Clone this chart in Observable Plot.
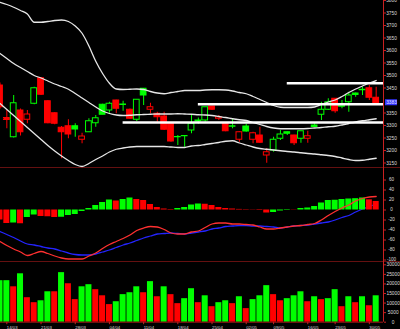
<!DOCTYPE html>
<html><head><meta charset="utf-8">
<script src="https://cdn.jsdelivr.net/npm/d3@7"></script>
<script src="https://cdn.jsdelivr.net/npm/@observablehq/plot@0.6"></script>
<style>
html,body{margin:0;padding:0;background:#000;}
#chart{position:relative;width:400px;height:329px;background:#000;overflow:hidden;}
#chart svg{display:block;}
</style></head><body><div id="chart"></div>
<script>
// ---- Candles (price) ----
const open  = [3460,3330,3253,3360,3323,3387,3489,3397,3349,3291,3297,3297,3243,3273,3309,3383,3360,3400,3382,3363,3323,3447,3363,3347,3336,3307,3253,3257,3280,3316,3320,3376,3327,3307,3295,3243,3296,3243,3260,3180,3200,3247,3273,3260,3247,3247,3300,3343,3363,3407,3375,3393,3428,3441,3449,3411];
const high  = [3470,3360,3420,3366,3360,3453,3492,3399,3351,3296,3323,3307,3269,3327,3340,3385,3393,3401,3397,3366,3403,3448,3389,3353,3353,3310,3260,3260,3340,3330,3373,3377,3340,3310,3327,3275,3305,3273,3293,3207,3253,3280,3274,3261,3277,3277,3307,3393,3407,3408,3400,3433,3430,3453,3460,3453];
const low   = [3365,3287,3250,3258,3307,3383,3420,3307,3303,3167,3247,3253,3227,3273,3293,3343,3349,3347,3357,3325,3316,3380,3347,3313,3280,3233,3220,3213,3267,3305,3313,3360,3320,3275,3287,3233,3273,3227,3229,3149,3193,3240,3260,3220,3229,3229,3293,3320,3360,3349,3367,3353,3413,3420,3400,3380];
const close = [3373,3322,3389,3273,3344,3449,3423,3309,3307,3273,3264,3284,3256,3317,3329,3343,3387,3367,3384,3327,3403,3420,3373,3333,3283,3236,3254,3258,3307,3320,3373,3363,3333,3277,3297,3273,3276,3269,3231,3193,3243,3264,3267,3229,3277,3257,3294,3363,3393,3357,3380,3420,3422,3443,3411,3383];
// 1 = closed above previous close (green), 0 = below (red)
const candleGreen = [0,0,1,0,0,1,0,0,0,0,0,1,0,1,1,1,1,0,1,0,1,1,0,0,0,0,1,1,1,1,1,0,0,0,1,0,1,0,0,0,1,1,1,0,1,0,1,1,1,0,1,1,1,1,0,0];
// ---- Bollinger bands ----
const bbUpper = [3793,3784,3773,3760,3746,3713,3713,3716,3720,3722,3716,3698,3669,3618,3557,3508,3469,3446,3444,3445,3446,3444,3436,3430,3427,3432,3436,3440,3440,3440,3442,3443,3443,3442,3438,3432,3427,3416,3404,3392,3380,3373,3372,3372,3372,3372,3374,3384,3394,3402,3416,3432,3446,3458,3470,3480];
const bbMid   = [3588,3568,3548,3532,3516,3500,3490,3478,3466,3456,3445,3428,3410,3392,3374,3358,3348,3342,3340,3341,3343,3344,3345,3346,3346,3346,3347,3346,3345,3343,3342,3340,3336,3332,3327,3323,3320,3312,3304,3296,3290,3287,3287,3287,3287,3288,3290,3292,3295,3297,3302,3308,3314,3319,3323,3327];
const bbLower = [3388,3364,3340,3316,3292,3268,3244,3220,3198,3178,3160,3144,3136,3148,3164,3178,3194,3205,3210,3214,3216,3216,3216,3216,3216,3214,3212,3212,3218,3220,3224,3228,3232,3237,3239,3230,3222,3214,3208,3205,3202,3199,3196,3194,3191,3188,3186,3183,3180,3176,3170,3164,3160,3161,3165,3169];
// ---- Drawn horizontal levels ----
const levelPrice = [3469, 3385, 3312];
const levelStart = [43, 30, 19];
const lastPrice = [3383];
// ---- MACD ----
const macdDif  = [-63,-71,-78,-84,-91,-87,-83,-87,-92,-96,-98,-98,-98,-92,-86,-77,-69,-63,-57,-50,-41,-36,-33,-34,-39,-46,-48,-48,-44,-42,-35,-28,-26,-26,-28,-28,-29,-30,-34,-38,-38,-36,-34,-32,-31,-29,-27,-20,-11,-3,4,10,18,23,26,27];
const macdDea  = [-43,-49,-55,-62,-68,-70,-73,-76,-78,-82,-86,-89,-90,-90,-88,-84,-80,-75,-70,-66,-61,-56,-52,-48,-47,-46,-47,-48,-46,-44,-42,-38,-36,-33,-32,-31,-31,-32,-32,-33,-34,-36,-34,-32,-31,-30,-28,-26,-24,-20,-15,-11,-4,2,7,12];
const macdHist = [-20,-27,-26,-27.5,-15,-10,-13,-13.5,-15,-14.5,-11,-9,-3,3,9,15,20,18,21,24,21,19,11,5,2,1,3,5,10,12,11.5,9,5,3,2,1.2,0.8,0.5,-1,-6,-5,-2,1,0.5,3,4,7,14,19,19.5,21,22,22.6,24,20.4,17];
// ---- Volume ----
const volume = [21700,21700,18500,25300,12800,10200,11200,15900,15900,25900,20100,11800,18500,19600,17000,13800,9200,10700,14400,15400,18500,15400,21200,13300,18500,14400,9700,12300,17500,10200,13800,8100,10200,11200,9700,13300,7100,11800,13800,19100,14400,11200,12300,13800,15900,10700,13300,11800,12300,17000,8100,13300,10200,13300,8600,13800];
const volumeGreen = [1,1,0,1,0,0,1,1,0,1,0,0,1,1,0,0,0,1,1,1,1,0,1,0,1,0,0,1,1,0,1,0,1,1,0,1,0,1,1,1,0,0,1,1,1,0,1,0,1,1,0,1,0,1,0,1];
// ---- Axis ticks (3400 is covered by the last-price tag in the original) ----
const priceTicks = [3800,3750,3700,3650,3600,3550,3500,3450,3350,3300,3250,3200,3150];
const macdTicks = [60,40,20,0,-20,-40,-60,-80,-100];
const volumeTicks = [30000,25000,20000,15000,10000,5000,0];
const dateTickCandle = [2,7,12,17,22,27,32,37,41,46,50,55];
const dateTickLabel = ["14/03","21/03","28/03","04/04","11/04","18/04","25/04","02/05","09/05","16/05","23/05","30/05"];

const N = open.length;
const candleNo = d3.range(1, N + 1);
const XD = [1.073, 57.07];
const W = 400, MR = 17;
const RED = "#c82020", GREEN = "#00ff00", CRED = "#ff0000";
const FONT = "'Liberation Sans', Arial, sans-serif";
const TXT = "#dcdcdc";

const rows = candleNo.map((n, k) => ({
  n, o: open[k], h: high[k], l: low[k], c: close[k], g: candleGreen[k] === 1,
  bu: bbUpper[k], bm: bbMid[k], bl: bbLower[k],
  dif: macdDif[k], dea: macdDea[k], hist: macdHist[k],
  histUp: k > 0 ? macdHist[k] >= macdHist[k - 1] : false,
  vol: volume[k], vg: volumeGreen[k] === 1
}));
const levels = levelPrice.map((p, k) => ({p, s: levelStart[k]}));
const dateLabel = new Map(dateTickCandle.map((n, k) => [n, dateTickLabel[k]]));

const style = {background: "#000", color: TXT, fontFamily: FONT, fontSize: "4.8px"};
const xScale = {type: "linear", domain: XD, axis: null};
const col = d => d.g ? GREEN : CRED;

const price = Plot.plot({
  width: W, height: 168, marginLeft: 0, marginRight: MR, marginTop: 0, marginBottom: 0,
  style, x: xScale, y: {domain: [3128, 3800], axis: null},
  marks: [
    Plot.ruleX(rows, {x: "n", y1: "l", y2: "h", stroke: col, strokeWidth: 1}),
    Plot.rect(rows, {x1: d => d.n - 0.42, x2: d => d.n + 0.42, y1: "o", y2: "c",
      fill: d => d.c > d.o ? "#000" : col(d), stroke: col, strokeWidth: 1}),
    Plot.line(rows, {x: "n", y: "bu", stroke: "#e6e6e6", strokeWidth: 1.3, curve: "monotone-x"}),
    Plot.line(rows, {x: "n", y: "bm", stroke: "#e6e6e6", strokeWidth: 1.3, curve: "monotone-x"}),
    Plot.line(rows, {x: "n", y: "bl", stroke: "#e6e6e6", strokeWidth: 1.3, curve: "monotone-x"}),
    Plot.ruleY(levels, {y: "p", x1: "s", x2: XD[1], stroke: "#ffffff", strokeWidth: 2.5}),
    Plot.ruleY([3130], {x1: XD[0], x2: 70, stroke: RED, strokeWidth: 1}),
    Plot.ruleX([XD[1]], {stroke: RED, strokeWidth: 1}),
    Plot.axisY(priceTicks, {anchor: "right", tickSize: 2, tickPadding: 6, textAnchor: "middle",
      stroke: RED, fill: TXT, fontSize: 4.8, tickFormat: d => String(d), label: null}),
    Plot.rect(lastPrice, {x1: XD[1], x2: XD[1], y1: d => d, y2: d => d,
      insetLeft: 2, insetRight: -14, insetTop: -5, insetBottom: -1, fill: "#3434ff"}),
    Plot.text(lastPrice, {x: XD[1], y: d => d, text: d => String(d), dx: 8, dy: -2,
      textAnchor: "middle", fill: "#e4e4ff", fontSize: 4.8})
  ]
});

const macd = Plot.plot({
  width: W, height: 94, marginLeft: 0, marginRight: MR, marginTop: 0, marginBottom: 0,
  style, x: xScale, y: {domain: [-105, 83], axis: null},
  marks: [
    Plot.line(rows, {x: "n", y: "dea", stroke: "#2424ff", strokeWidth: 1.3, curve: "monotone-x"}),
    Plot.rect(rows, {x1: d => d.n - 0.44, x2: d => d.n + 0.44, y1: 0, y2: "hist",
      fill: d => d.histUp ? GREEN : CRED}),
    Plot.line(rows, {x: "n", y: "dif", stroke: "#ff3030", strokeWidth: 1.3, curve: "monotone-x"}),
    Plot.ruleY([-104], {x1: XD[0], x2: 70, stroke: RED, strokeWidth: 1}),
    Plot.ruleX([XD[1]], {stroke: RED, strokeWidth: 1}),
    Plot.axisY(macdTicks, {anchor: "right", tickSize: 2, tickPadding: 6, textAnchor: "middle",
      stroke: RED, fill: TXT, fontSize: 4.6, tickFormat: d => String(d), label: null})
  ]
});

const vol = Plot.plot({
  width: W, height: 67, marginLeft: 0, marginRight: MR, marginTop: 0, marginBottom: 7.3,
  style, x: xScale, y: {domain: [0, 31200], axis: null},
  marks: [
    Plot.rect(rows, {x1: d => d.n - 0.44, x2: d => d.n + 0.44, y1: 0, y2: "vol",
      fill: d => d.vg ? GREEN : CRED}),
    Plot.ruleY([0], {stroke: "#a01818", strokeWidth: 1}),
    Plot.ruleX([XD[1]], {y1: 0, y2: 31200, stroke: RED, strokeWidth: 1}),
    Plot.axisY(volumeTicks, {anchor: "right", tickSize: 2, tickPadding: 7.7, textAnchor: "middle",
      stroke: RED, fill: TXT, fontSize: 4.8, tickFormat: d => String(d), label: null}),
    Plot.axisX(dateTickCandle, {anchor: "bottom", tickSize: 2.5, tickPadding: 1.5, textAnchor: "start",
      stroke: RED, fill: TXT, fontSize: 4.3, tickFormat: d => dateLabel.get(d), label: null})
  ]
});

const root = document.getElementById("chart");
root.append(price, macd, vol);
</script>
</body></html>
